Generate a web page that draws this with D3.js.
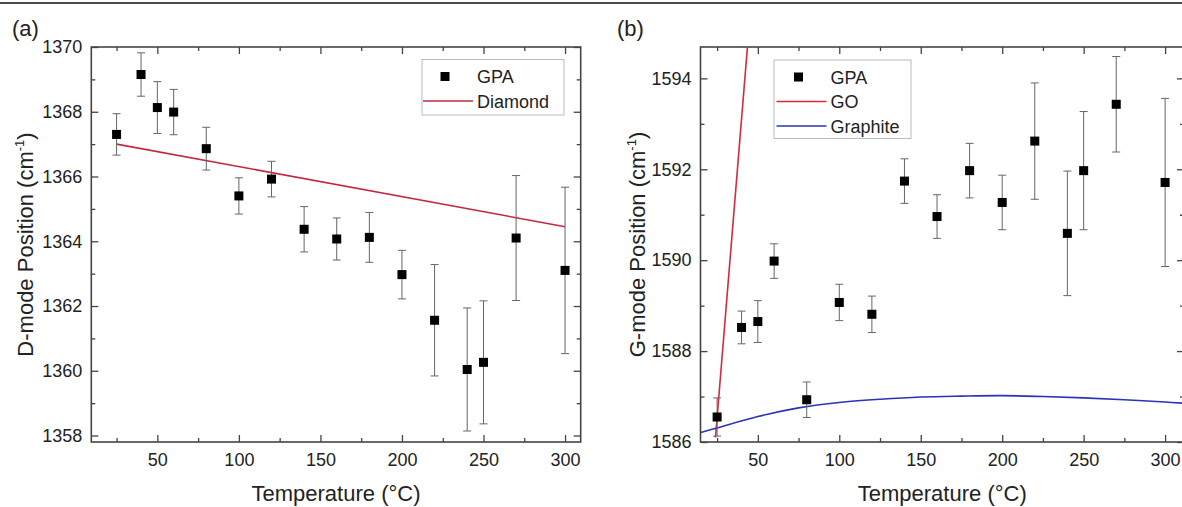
<!DOCTYPE html>
<html>
<head>
<meta charset="utf-8">
<script src="https://cdn.jsdelivr.net/npm/d3@7"></script>
<style>
  body { margin: 0; background: #fff; }
  svg { display: block; font-family: "Liberation Sans", Arial, sans-serif; }
</style>
</head>
<body>
<svg id="chart" width="1182" height="507"></svg>
<script>
// ---- data ----
var tempsA = [25, 40, 50, 60, 80, 100, 120, 140, 160, 180, 200, 220, 240, 250, 270, 300];
var dPos   = [1367.3, 1369.15, 1368.13, 1367.99, 1366.86, 1365.4, 1365.92, 1364.37, 1364.07, 1364.12, 1362.97, 1361.56, 1360.04, 1360.26, 1364.1, 1363.1];
var dErr   = [0.64, 0.67, 0.8, 0.7, 0.66, 0.56, 0.55, 0.7, 0.65, 0.77, 0.75, 1.72, 1.9, 1.9, 1.93, 2.57];
var diamondT = [25, 300];
var diamondV = [1367.0, 1364.45];

var tempsB = [25, 40, 50, 60, 80, 100, 120, 140, 160, 180, 200, 220, 240, 250, 270, 300];
var gPos   = [1586.55, 1588.52, 1588.65, 1589.98, 1586.93, 1589.07, 1588.81, 1591.74, 1590.96, 1591.97, 1591.27, 1592.62, 1590.59, 1591.97, 1593.43, 1591.71];
var gErr   = [0.42, 0.36, 0.46, 0.38, 0.39, 0.4, 0.4, 0.49, 0.48, 0.6, 0.6, 1.28, 1.37, 1.3, 1.05, 1.85];
var goT = [24, 44];
var goV = [1586.1, 1594.86];
var graphiteT = [15, 25, 50, 75, 100, 125, 150, 175, 200, 225, 250, 275, 300, 312];
var graphiteV = [1586.21, 1586.31, 1586.56, 1586.75, 1586.87, 1586.94, 1586.99, 1587.01, 1587.02, 1587.0, 1586.97, 1586.93, 1586.88, 1586.85];

var xTicks = [50, 100, 150, 200, 250, 300];
var xMinor = [25, 75, 125, 175, 225, 275];
var yTicksA = [1358, 1360, 1362, 1364, 1366, 1368, 1370];
var yTicksB = [1586, 1588, 1590, 1592, 1594];

var svg = d3.select("#chart");

// top rule
svg.append("line")
  .attr("x1", 0).attr("x2", 1182).attr("y1", 3).attr("y2", 3)
  .attr("stroke", "#111").attr("stroke-width", 1.4);

function drawPanel(p) {
  var x = d3.scaleLinear().domain(p.xDomain).range([p.left, p.right]);
  var y = d3.scaleLinear().domain(p.yDomain).range([p.bottom, p.top]);

  var g = svg.append("g");
  var clipId = "clip-" + p.tag;
  svg.append("clipPath").attr("id", clipId)
    .append("rect")
    .attr("x", p.left).attr("y", p.top)
    .attr("width", p.right - p.left).attr("height", p.bottom - p.top);

  var yMinor = d3.range(p.yDomain[0], p.yDomain[1], 1).map(Math.ceil)
    .filter(function(v, i, a) { return a.indexOf(v) == i && p.yTicks.indexOf(v) < 0; });

  // axes: major + minor on all four sides, ticks inward
  function axes(axisFn, pos, ticks, minor, withLabels, scale) {
    var ga = g.append("g").attr("transform", pos);
    ga.call(axisFn(scale).tickValues(ticks).tickSize(-7).tickSizeOuter(0)
      .tickPadding(axisFn == d3.axisBottom ? 11 : 9)
      .tickFormat(withLabels ? d3.format("d") : ""));
    ga.append("g").call(axisFn(scale).tickValues(minor).tickSize(-4).tickSizeOuter(0).tickFormat(""));
    ga.selectAll("path.domain").remove();
    ga.selectAll("line").attr("stroke", "#444").attr("stroke-width", 1.3);
    ga.selectAll("text").attr("font-size", 18).attr("fill", "#222")
      .attr("font-family", "'Liberation Sans', Arial, sans-serif");
  }
  axes(d3.axisBottom, "translate(0," + p.bottom + ")", xTicks, xMinor, true, x);
  axes(d3.axisTop, "translate(0," + p.top + ")", xTicks, xMinor, false, x);
  axes(d3.axisLeft, "translate(" + p.left + ",0)", p.yTicks, yMinor, true, y);
  axes(d3.axisRight, "translate(" + p.right + ",0)", p.yTicks, yMinor, false, y);

  g.append("rect")
    .attr("x", p.left).attr("y", p.top)
    .attr("width", p.right - p.left).attr("height", p.bottom - p.top)
    .attr("fill", "none").attr("stroke", "#444").attr("stroke-width", 1.6);

  // reference lines
  var line = d3.line()
    .x(function(d) { return x(d[0]); })
    .y(function(d) { return y(d[1]); })
    .curve(d3.curveCatmullRom);
  p.lines.forEach(function(l) {
    g.append("path")
      .datum(d3.zip(l.t, l.v))
      .attr("clip-path", "url(#" + clipId + ")")
      .attr("fill", "none")
      .attr("stroke", l.color)
      .attr("stroke-width", 1.6)
      .attr("d", line);
  });

  // error bars
  var pts = d3.zip(p.t, p.v, p.e);
  var eb = g.append("g").attr("stroke", "#666").attr("stroke-width", 1);
  pts.forEach(function(d) {
    var cx = x(d[0]);
    eb.append("line").attr("x1", cx).attr("x2", cx)
      .attr("y1", y(d[1] + d[2])).attr("y2", y(d[1] - d[2]));
    [d[1] + d[2], d[1] - d[2]].forEach(function(v) {
      eb.append("line").attr("x1", cx - 4).attr("x2", cx + 4)
        .attr("y1", y(v)).attr("y2", y(v));
    });
  });

  // points
  g.append("g").selectAll("rect")
    .data(pts).enter().append("rect")
    .attr("x", function(d) { return x(d[0]) - 4.5; })
    .attr("y", function(d) { return y(d[1]) - 4.5; })
    .attr("width", 9).attr("height", 9)
    .attr("fill", "#000");

  // axis titles
  g.append("text")
    .attr("x", (p.left + p.right) / 2).attr("y", 501)
    .attr("text-anchor", "middle").attr("font-size", 22).attr("fill", "#222")
    .text("Temperature (\u00B0C)");

  var yt = g.append("text")
    .attr("transform", "translate(" + p.yTitleX + "," + ((p.top + p.bottom) / 2) + ") rotate(-90)")
    .attr("text-anchor", "middle").attr("font-size", 22).attr("fill", "#222");
  yt.append("tspan").text(p.yTitle + " (cm");
  yt.append("tspan").attr("font-size", 13).attr("dy", -9).text("-1");
  yt.append("tspan").attr("dy", 9).text(")");

  g.append("text")
    .attr("x", p.tagX).attr("y", 36)
    .attr("font-size", 22).attr("fill", "#222")
    .text("(" + p.tag + ")");

  // legend
  var lg = p.legend;
  g.append("rect")
    .attr("x", lg.x).attr("y", lg.y).attr("width", lg.w).attr("height", lg.h)
    .attr("fill", "#fff").attr("stroke", "#bbb").attr("stroke-width", 1);
  lg.items.forEach(function(it, i) {
    var cy = lg.y + 17 + i * 24.5;
    if (it.marker) {
      g.append("rect")
        .attr("x", lg.x + lg.sym + 22 - 4.5).attr("y", cy - 4.5)
        .attr("width", 9).attr("height", 9).attr("fill", "#000");
    } else {
      g.append("line")
        .attr("x1", lg.x + lg.sym).attr("x2", lg.x + lg.sym + 50)
        .attr("y1", cy).attr("y2", cy)
        .attr("stroke", it.color).attr("stroke-width", 1.6);
    }
    g.append("text")
      .attr("x", lg.x + lg.sym + 54).attr("y", cy + 6.5)
      .attr("font-size", 18).attr("fill", "#222")
      .text(it.label);
  });
}

drawPanel({
  tag: "a", tagX: 12,
  left: 91.3, right: 580.7, top: 47, bottom: 442,
  xDomain: [9.5, 309.6], yDomain: [1357.8, 1370.0],
  yTicks: yTicksA,
  t: tempsA, v: dPos, e: dErr,
  lines: [{ t: diamondT, v: diamondV, color: "#c4283f" }],
  yTitle: "D-mode Position", yTitleX: 33,
  legend: { x: 422, y: 59.5, w: 142, h: 55.5, sym: 1,
    items: [{ label: "GPA", marker: true }, { label: "Diamond", color: "#c4283f" }] }
});

drawPanel({
  tag: "b", tagX: 617,
  left: 700.5, right: 1184, top: 47, bottom: 442,
  xDomain: [14.8, 311.6], yDomain: [1586.0, 1594.69],
  yTicks: yTicksB,
  t: tempsB, v: gPos, e: gErr,
  lines: [{ t: goT, v: goV, color: "#d42a3a" }, { t: graphiteT, v: graphiteV, color: "#2a34b8" }],
  yTitle: "G-mode Position", yTitleX: 645,
  legend: { x: 774, y: 60, w: 137, h: 78.5, sym: 2.5,
    items: [{ label: "GPA", marker: true }, { label: "GO", color: "#d42a3a" }, { label: "Graphite", color: "#2a34b8" }] }
});
</script>
</body>
</html>
